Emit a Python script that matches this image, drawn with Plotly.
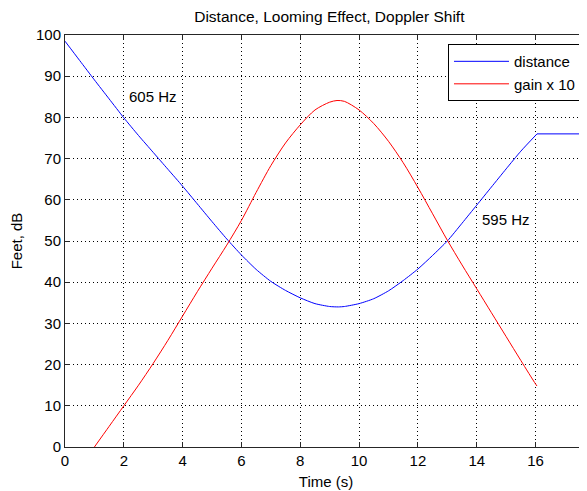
import plotly.graph_objects as go

# Dados
t_dist = [0, 0.5, 1.0, 1.5, 2.0, 2.5, 3.0, 3.5, 4.0, 4.5, 5.0, 5.5, 6.0, 6.5, 7.0, 7.5, 8.0,
          8.5, 9.0, 9.3, 9.5, 10.0, 10.5, 11.0, 11.5, 12.0, 12.5, 13.0, 13.5, 14.0, 14.5,
          15.0, 15.5, 16.05]
distance = [98.5, 93.8, 89.1, 84.5, 79.9, 75.6, 71.5, 67.4, 63.3, 59.0, 54.7, 50.5, 46.6,
            43.1, 40.2, 38.0, 36.2, 34.8, 34.1, 34.0, 34.1, 34.8, 36.0, 37.9, 40.4, 43.2,
            46.5, 50.0, 54.3, 58.7, 63.1, 67.5, 71.8, 76.0]

# trecho final constante da distância
t_dist_fim = [16.05, 18.0]
distance_fim = [76.0, 76.0]

t_gain = [1.0, 1.5, 2.0, 2.5, 3.0, 3.5, 4.0, 4.5, 5.0, 5.5, 6.0, 6.5, 7.0, 7.5, 8.0, 8.5,
          9.0, 9.25, 9.5, 10.0, 10.5, 11.0, 11.5, 12.0, 12.5, 13.0, 13.5, 14.0, 14.5, 15.0,
          15.5, 16.0, 16.05]
gain = [0.0, 5.0, 10.0, 15.0, 20.3, 25.9, 31.8, 37.7, 43.4, 49.0, 55.0, 61.8, 68.3, 73.8,
        78.2, 81.8, 83.7, 84.1, 83.9, 81.8, 78.5, 74.2, 69.0, 63.0, 56.6, 50.2, 44.2, 38.4,
        32.6, 26.8, 21.0, 15.3, 14.8]

x_ticks = [0, 2, 4, 6, 8, 10, 12, 14, 16]
y_ticks = [0, 10, 20, 30, 40, 50, 60, 70, 80, 90, 100]

fonte = 'Liberation Sans, Arial, sans-serif'
eixo = '#262626'

fig = go.Figure()

fig.add_trace(go.Scatter(
    x=t_dist, y=distance, mode='lines', name='distance', legendgroup='d',
    line=dict(color='#0000ff', width=1, shape='spline', smoothing=0.6)
))
fig.add_trace(go.Scatter(
    x=t_dist_fim, y=distance_fim, mode='lines', name='distance', legendgroup='d',
    showlegend=False, line=dict(color='#0000ff', width=1)
))

fig.add_trace(go.Scatter(
    x=t_gain, y=gain, mode='lines', name='gain x 10',
    line=dict(color='#ff0000', width=1, shape='spline', smoothing=0.8)
))

# Rótulos de frequência
fig.add_annotation(x=2.1, y=85, text='605 Hz', showarrow=False, xanchor='left',
                   font=dict(size=15, color='#000'))
fig.add_annotation(x=14.1, y=55.3, text='595 Hz', showarrow=False, xanchor='left',
                   font=dict(size=15, color='#000'))

# A página tem margem de 8px no body: figura menor e deslocada
fig.update_layout(
    width=579,
    height=483,
    margin=dict(l=57, r=0, t=27, b=44),
    paper_bgcolor='white',
    plot_bgcolor='white',
    font=dict(family=fonte, size=15, color='#000'),
    title=dict(text='Distance, Looming Effect, Doppler Shift', x=0.555, xanchor='center',
               y=1 - 9 / 483, yanchor='middle', font=dict(size=15.5)),
    xaxis=dict(
        range=[0, 17.75], tickvals=x_ticks, ticks='inside', ticklen=5, tickcolor=eixo,
        showline=True, linecolor=eixo, linewidth=1, mirror='ticks',
        showgrid=True, gridcolor='#000', griddash='1px,3px', gridwidth=1,
        zeroline=False, title=dict(text='Time (s)', standoff=8, font=dict(size=15))
    ),
    yaxis=dict(
        range=[0, 100], tickvals=y_ticks, ticks='inside', ticklen=5, tickcolor=eixo,
        showline=True, linecolor=eixo, linewidth=1, mirror='ticks',
        showgrid=True, gridcolor='#000', griddash='1px,3px', gridwidth=1,
        zeroline=False, title=dict(text='Feet, dB', standoff=12, font=dict(size=15))
    ),
    legend=dict(x=0.9885, y=0.978, xanchor='right', yanchor='top',
                bgcolor='white', bordercolor='#000', borderwidth=1,
                itemwidth=55, tracegroupgap=0, font=dict(size=15))
)

fig.write_html('out.html')
